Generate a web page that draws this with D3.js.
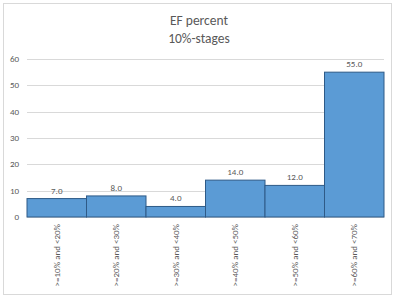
<!DOCTYPE html>
<meta charset="utf-8">
<html>
  <head>
    <style>
      body { margin: 0; background: #fff; font-family: Calibri, Carlito, "Liberation Sans", sans-serif; }
    </style>
  </head>
  <body>
    <div id="chart"></div>
<script src="https://d3js.org/d3.v7.min.js"></script>
<script>
// categories and values
var categories = [">=10% and <20%", ">=20% and <30%", ">=30% and <40%", ">=40% and <50%", ">=50% and <60%", ">=60% and <70%"]
var values = [7.0, 8.0, 4.0, 14.0, 12.0, 55.0]
var yTicks = [0, 10, 20, 30, 40, 50, 60]

var W = 398, H = 299
var margin = {top: 59, right: 14, bottom: 82, left: 27},
    width = W - margin.left - margin.right,
    height = H - margin.top - margin.bottom

var svg = d3.select("#chart").append("svg")
    .attr("width", W)
    .attr("height", H)

// chart border
svg.append("rect")
    .attr("x", 3.5).attr("y", 3.5)
    .attr("width", 388).attr("height", 291)
    .style("fill", "#fff")
    .style("stroke", "#d9d9d9")

// title
svg.append("text")
    .attr("x", 199).attr("y", 25)
    .attr("text-anchor", "middle")
    .style("font-size", "13.5px").style("fill", "#595959")
    .text("EF percent")
svg.append("text")
    .attr("x", 199).attr("y", 43)
    .attr("text-anchor", "middle")
    .style("font-size", "13.5px").style("fill", "#595959")
    .text("10%-stages")

var g = svg.append("g")
    .attr("transform", "translate(" + margin.left + "," + margin.top + ")")

var x = d3.scaleBand()
    .domain(categories)
    .range([0, width])
    .padding(0)
var y = d3.scaleLinear()
    .domain([0, 60])
    .range([height, 0])

// gridlines
g.selectAll(".grid")
    .data(yTicks)
  .enter().append("line")
    .attr("x1", 0).attr("x2", width)
    .attr("y1", function(d) { return Math.round(y(d)) + 0.5 })
    .attr("y2", function(d) { return Math.round(y(d)) + 0.5 })
    .style("stroke", "#d9d9d9")

// y tick labels
g.selectAll(".ytick")
    .data(yTicks)
  .enter().append("text")
    .attr("x", -8)
    .attr("y", function(d) { return y(d) })
    .attr("dy", "0.35em")
    .attr("text-anchor", "end")
    .style("font-size", "9px").style("fill", "#595959")
    .text(function(d) { return d })

// bars
g.selectAll(".bar")
    .data(values)
  .enter().append("rect")
    .attr("x", function(d, i) { return x(categories[i]) })
    .attr("y", function(d) { return y(d) })
    .attr("width", x.bandwidth())
    .attr("height", function(d) { return height - y(d) })
    .style("fill", "#5b9bd5")
    .style("stroke", "#2e5a87")
    .style("stroke-width", 1)

// value labels
g.selectAll(".val")
    .data(values)
  .enter().append("text")
    .attr("x", function(d, i) { return x(categories[i]) + x.bandwidth() / 2 })
    .attr("y", function(d) { return y(d) - 5 })
    .attr("text-anchor", "middle")
    .style("font-size", "9px").style("fill", "#595959")
    .text(function(d) { return d.toFixed(1) })

// rotated category labels
g.selectAll(".cat")
    .data(categories)
  .enter().append("text")
    .attr("transform", function(d) {
      return "translate(" + (x(d) + x.bandwidth() / 2) + "," + (height + 7) + ") rotate(-90)"
    })
    .attr("dy", "0.35em")
    .attr("text-anchor", "end")
    .style("font-size", "9px").style("fill", "#595959")
    .text(function(d) { return d })
</script>
  </body>
</html>
